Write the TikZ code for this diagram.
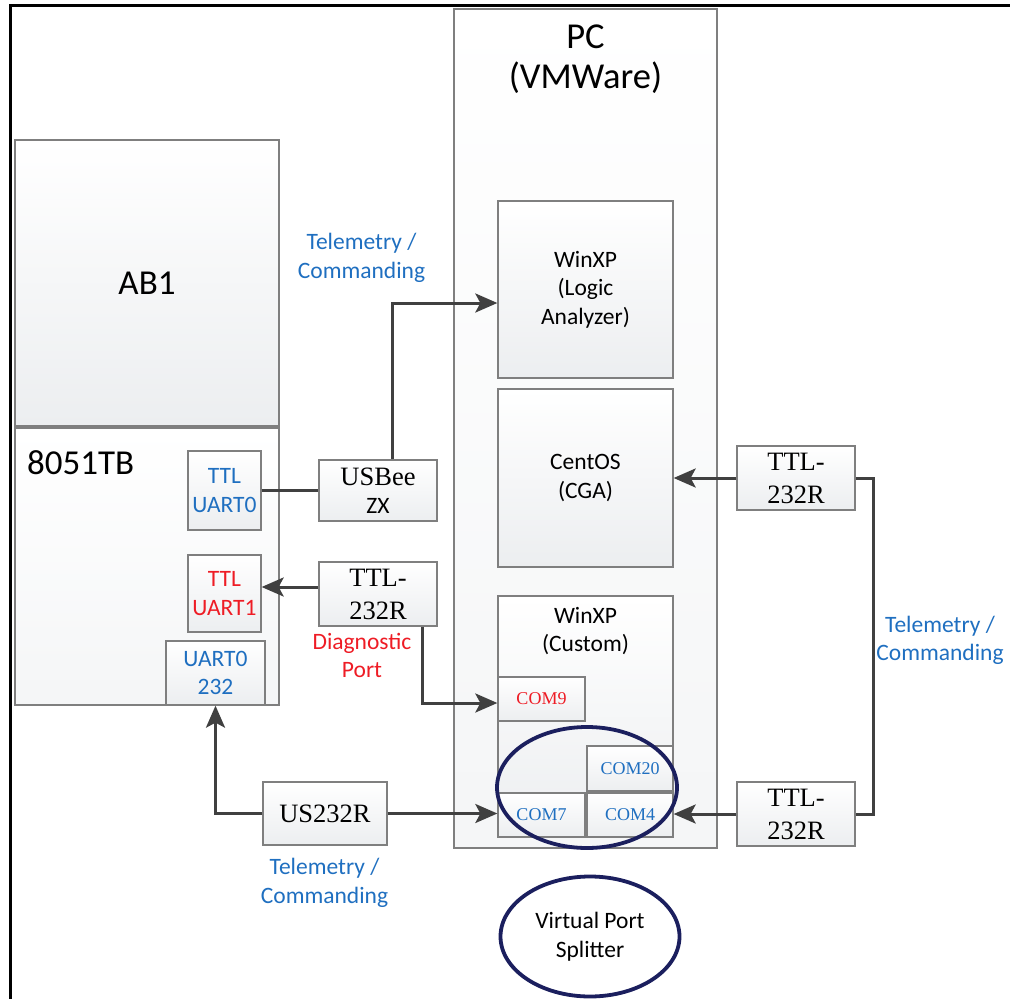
\documentclass[tikz,border=0pt]{standalone}
\usepackage{fontspec}
\setmainfont{Carlito}
\newfontfamily\tmsfam{Liberation Serif}
\usetikzlibrary{arrows.meta,positioning,calc,shapes.geometric}
\definecolor{boxgrey}{HTML}{7F7F7F}
\definecolor{shadec}{HTML}{ECEEF0}
\definecolor{wirec}{HTML}{404040}
\definecolor{bluet}{HTML}{1F6FC0}
\definecolor{redt}{HTML}{EE1C25}
\definecolor{navyc}{HTML}{1B1F5E}
\newcommand{\bigfont}{\fontsize{35}{40}\selectfont}
\newcommand{\pcfont}{\fontsize{36.5}{39.5}\selectfont}
\newcommand{\tms}{\tmsfam\fontsize{26.5}{33}\selectfont}
\newcommand{\comfont}{\tmsfam\fontsize{18}{22}\selectfont}

\begin{document}
\begin{tikzpicture}[x=1pt, y=-1pt,
  font=\fontsize{23.5}{28.5}\selectfont,
  bx/.style ={draw=boxgrey, line width=1.3pt, top color=white, bottom color=shadec,
              inner sep=0pt, align=center},
  cnt/.style={bx, bottom color=shadec!55},
  tx/.style ={inner sep=0pt, align=center},
  com/.style={bx, font=\comfont, text=bluet},
  ar/.style ={-{Stealth[length=22pt,width=19pt,inset=5pt]}, wirec, line width=3pt},
  wr/.style ={wirec, line width=3pt},
  spl/.style={ellipse, draw=navyc, line width=3.8pt, inner sep=0pt}
]
\useasboundingbox (0,0) rectangle (1010,999);
% ---------- frame ----------
\draw[line width=3pt] (10,1002) -- (10,5.5) -- (1012,5.5);

% ---------- target boards ----------
\node[bx, minimum width=264pt, minimum height=286pt, font=\bigfont] (ab1) at (147,283) {AB1};
\node[cnt, minimum width=264pt, minimum height=277pt] (tb) at (147,566.5) {};
\node[tx, font=\bigfont, anchor=base west] (tbt) at (27,474) {8051TB};
\node[bx, minimum width=73pt, minimum height=79pt, text=bluet] (ua0) at (224.5,490.5) {TTL\\UART0};
\node[bx, minimum width=73pt, minimum height=77pt, text=redt] (ua1) at (224.5,593.5) {TTL\\UART1};
\node[bx, minimum width=99pt, minimum height=64pt, text=bluet] (u232) at (215.5,673) {UART0\\232};

% ---------- adapters ----------
\node[bx, minimum width=118pt, minimum height=61pt] (usb) at (378,490.5)
  {{\tmsfam\fontsize{26.5}{31}\selectfont USBee}\\ZX};
\node[bx, minimum width=118pt, minimum height=64pt, font=\tms] (ttla) at (378,594) {TTL-\\232R};
\node[tx, text=redt, anchor=north] (diag) at (362,633) {Diagnostic\\Port};
\node[tx, text=bluet, anchor=north] (tm1) at (361.5,233) {Telemetry /\\Commanding};
\node[bx, minimum width=124pt, minimum height=63pt, font=\tms] (us) at (325,813.5) {US232R};
\node[tx, text=bluet, anchor=north] (tm2) at (324.5,858) {Telemetry /\\Commanding};

% ---------- PC ----------
\node[cnt, minimum width=263pt, minimum height=839pt] (pc) at (585.5,428.5) {};
\node[tx, font=\pcfont, anchor=north] (pct) at (585.5,25) {PC\\(VMWare)};
\node[bx, minimum width=175pt, minimum height=177pt] (wxl) at (585.5,289.5) {WinXP\\(Logic\\Analyzer)};
\node[bx, minimum width=175pt, minimum height=178pt] (cent) at (585.5,478) {CentOS\\(CGA)};
\node[bx, minimum width=175pt, minimum height=241pt] (wxc) at (585.5,716.5) {};
\node[tx, anchor=north] (wxct) at (585.5,607) {WinXP\\(Custom)};
\node[com, minimum width=87pt, minimum height=44pt, text=redt] (com9) at (541.5,699) {COM9};
\node[com, minimum width=86pt, minimum height=45pt] (com20) at (630,768.5) {COM20};
\node[com, minimum width=87pt, minimum height=44pt] (com7) at (541.5,815) {COM7};
\node[com, minimum width=86pt, minimum height=44pt] (com4) at (630,815) {COM4};

% ---------- right side ----------
\node[bx, minimum width=118pt, minimum height=64pt, font=\tms] (ttlb) at (796,478) {TTL-\\232R};
\node[bx, minimum width=118pt, minimum height=64pt, font=\tms] (ttlc) at (796,814) {TTL-\\232R};
\node[tx, text=bluet, anchor=north] (tm3) at (940,615.5) {Telemetry /\\Commanding};

% ---------- connectors ----------
\draw[wr] (ua0.east) -- (usb.west);
\draw[ar] ([xshift=14pt]usb.north) |- ([yshift=-13.5pt]wxl.west);
\draw[ar] ([yshift=7pt]ttla.west) -- ([yshift=7pt]ttla.west -| ua1.east);
\draw[ar] ([xshift=44pt]ttla.south) |- ([yshift=-4pt]com9.west);
\draw[ar] (us.east) -- (us.east -| com7.west);
\draw[ar] (us.west) -| (u232.south);
\draw[ar] (ttlb.west) -- (ttlb.west -| cent.east);
\draw[ar] (ttlc.west) -- (ttlc.west -| com4.east);
\draw[wr] (ttlb.east) -- ++(18,0) |- (ttlc.east);

% ---------- port splitter ----------
\node[spl, minimum width=180pt, minimum height=121pt] (grp) at (587,787.5) {};
\node[spl, fill=white, minimum width=179pt, minimum height=120pt, align=center] (vps) at (590,936.5)
  {Virtual Port\\Splitter};
\end{tikzpicture}
\end{document}
